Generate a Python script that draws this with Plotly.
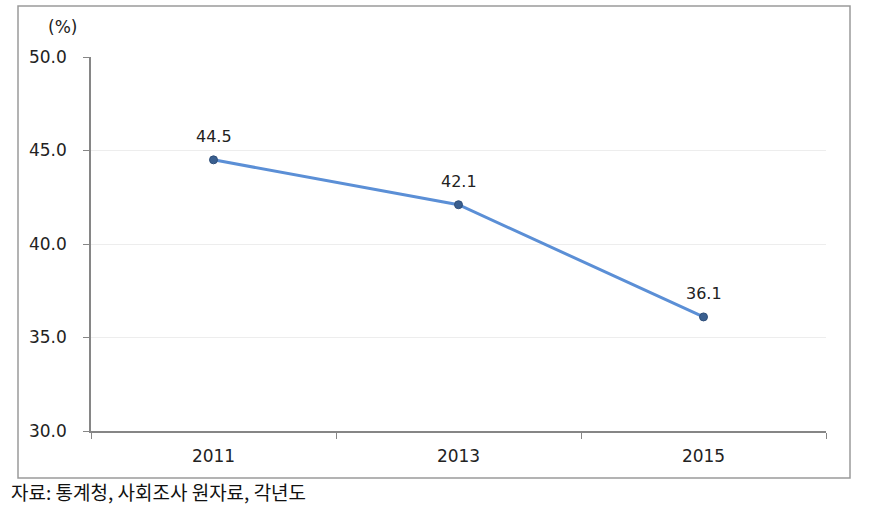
import plotly.graph_objects as go

years = ["2011", "2013", "2015"]
values = [44.5, 42.1, 36.1]
y_ticks = [30, 35, 40, 45, 50]
y_tick_labels = ["30.0", "35.0", "40.0", "45.0", "50.0"]
unit_label = "(%)"
source_text = "자료: 통계청, 사회조사 원자료, 각년도"

W, H = 869, 517
L, R, T, B = 91, 43, 57, 86
pw, ph = W - L - R, H - T - B

def px(x):
    return (x - L) / pw

def py(y):
    return (H - B - y) / ph

fig = go.Figure()
fig.add_trace(go.Scatter(
    x=years, y=values,
    mode="lines+markers",
    line=dict(color="#5B8FD6", width=3),
    marker=dict(color="#3A5F8F", size=8, line=dict(color="#2F4F7A", width=1)),
    cliponaxis=False,
    showlegend=False,
))

annotations = [
    dict(x=i, y=v, xref="x", yref="y", text=f"{v:.1f}",
         showarrow=False, yshift=23, xanchor="center", yanchor="middle",
         font=dict(family="DejaVu Sans", size=16, color="#222222"))
    for i, v in enumerate(values)
]
annotations += [
    dict(text=unit_label, xref="paper", yref="paper",
         x=px(62), y=py(27), xanchor="center", yanchor="middle",
         showarrow=False,
         font=dict(family="DejaVu Sans", size=17, color="#222222")),
    dict(text=source_text, xref="paper", yref="paper",
         x=px(9), y=py(491), xanchor="left", yanchor="middle",
         showarrow=False,
         font=dict(family="Noto Sans CJK KR", size=19, color="#111111")),
]

fig.update_layout(
    width=W, height=H,
    margin=dict(l=L, r=R, t=T, b=B),
    paper_bgcolor="white",
    plot_bgcolor="white",
    font=dict(family="DejaVu Sans", color="#222222"),
    xaxis=dict(
        type="category",
        range=[-0.5, 2.5],
        tickson="boundaries",
        ticks="outside",
        ticklen=6,
        tickcolor="#868686",
        showline=True,
        linecolor="#868686",
        linewidth=1.5,
        showgrid=False,
        tickfont=dict(family="DejaVu Sans", size=17, color="#222222"),
        ticklabelstandoff=9,
        fixedrange=True,
    ),
    yaxis=dict(
        range=[30, 50],
        tickvals=y_ticks,
        ticktext=y_tick_labels,
        ticks="outside",
        ticklen=6,
        tickcolor="#868686",
        showline=True,
        linecolor="#868686",
        linewidth=1.5,
        showgrid=True,
        gridcolor="#EDEDED",
        gridwidth=1,
        zeroline=False,
        tickfont=dict(family="DejaVu Sans", size=17, color="#222222"),
        ticklabelstandoff=13,
    ),
    shapes=[dict(
        type="rect", xref="paper", yref="paper",
        x0=px(18), x1=px(850), y0=py(478), y1=py(6),
        line=dict(color="#9A9A9A", width=1.5),
        fillcolor="rgba(0,0,0,0)",
        layer="below",
    )],
    annotations=annotations,
)

fig.write_html("out.html")
